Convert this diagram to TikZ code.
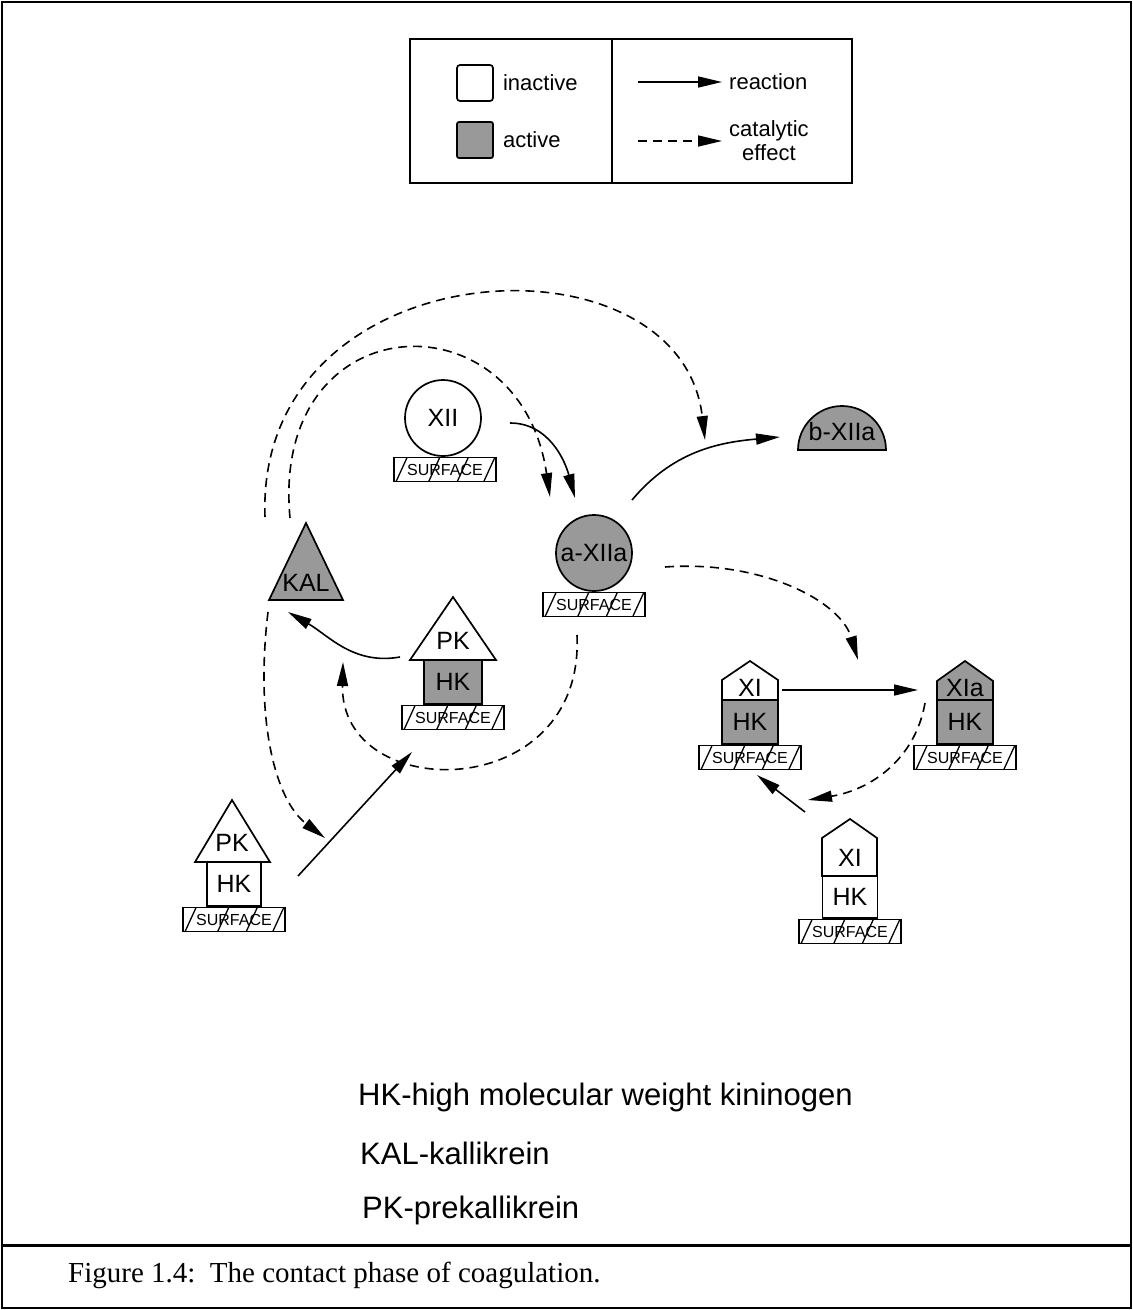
\documentclass[tikz,border=0pt]{standalone}
\usepackage{fontspec}
\setmainfont{Liberation Sans}
\newfontfamily\capfont{Liberation Serif}
\usetikzlibrary{shapes.geometric, arrows.meta, positioning, calc}
\newcommand{\fsz}[1]{\fontsize{#1}{#1}\selectfont}

\begin{document}
\begin{tikzpicture}[
    x=1pt, y=1pt,
    inact/.style={draw, fill=white, line width=1.7pt, inner sep=0pt, font=\fsz{25}},
    act/.style={inact, fill=black!40},
    lbl/.style={inner sep=0pt, font=\fsz{25}},
    surf/.style={draw, fill=white, line width=1.5pt, minimum width=102pt,
                 minimum height=24pt, inner sep=0pt, font=\fsz{16},
                 path picture={\foreach \f in {0.02,0.34,0.62,0.88}
                   \draw[line width=1.3pt] ($(path picture bounding box.south west)!\f!(path picture bounding box.south east)$) -- ++(11pt,24pt);}},
    react/.style={-{Triangle[length=24pt,width=11pt]}, line width=1.6pt},
    cat/.style={react, dash pattern=on 9pt off 6pt},
    leg/.style={font=\fontsize{22}{24}\selectfont, align=center, inner sep=1pt},
    note/.style={font=\fsz{31}, anchor=west, inner sep=0pt},
    node distance=8pt
]
\useasboundingbox (0,0) rectangle (1133,-1310);
\draw[line width=2.2pt] (2,-2) rectangle (1131,-1308);
\draw[line width=3pt] (2,-1245) -- (1131,-1245);

\draw[line width=1.8pt] (410,-39) rectangle (852,-183);
\draw[line width=1.8pt] (612,-39) -- (612,-183);
\node[inact, minimum size=36pt, rounded corners=3pt] (lgin) at (475,-83) {};
\node[leg, right=of lgin] (lgintxt) {inactive};
\node[act, minimum size=36pt, rounded corners=2pt] (lgact) at (475,-140) {};
\node[leg, right=of lgact] (lgacttxt) {active};
\node[leg, anchor=west] (lgreact) at (728,-82) {reaction};
\node[leg, anchor=west] (lgcat) at (728,-141) {catalytic\\effect};
\coordinate (lgra) at (638,-82);
\coordinate (lgca) at (638,-141);
\draw[react, shorten >=6pt] (lgra) -- (lgreact.west);
\draw[cat, shorten >=6pt] (lgca) -- (lgcat.west);

\node[inact, circle, minimum size=76pt] (xii) at (443,-418) {XII};
\node[surf, below=0pt of xii, xshift=2pt] (xiisurf) {SURFACE};

\node[act, circle, minimum size=76pt] (axiia) at (594,-553) {a-XIIa};
\node[surf, below=0pt of axiia] (axiiasurf) {SURFACE};

\draw[act] (798,-450) arc[start angle=180, end angle=0, radius=44] -- cycle;
\node[lbl] (bxiia) at (842,-432) {b-XIIa};

\draw[act] (269,-600) -- (306,-523) -- (343,-600) -- cycle;
\node[lbl] (kal) at (306,-583) {KAL};

\node[act, minimum width=58pt, minimum height=44pt] (hka) at (453,-682) {HK};
\draw[inact] (410,-660) -- (453,-597) -- (496,-660) -- cycle;
\node[lbl] (pka) at (453,-641) {PK};
\node[surf, below=0pt of hka] (hkasurf) {SURFACE};

\node[inact, minimum width=54pt, minimum height=44pt] (hkb) at (234,-884) {HK};
\draw[inact] (195,-862) -- (232,-800) -- (270,-862) -- cycle;
\node[lbl] (pkb) at (232,-843) {PK};
\node[surf, below=0pt of hkb] (hkbsurf) {SURFACE};

\node[act, minimum width=56pt, minimum height=44pt] (hkc) at (750,-722) {HK};
\draw[inact] (722,-700) -- (722,-680) -- (750,-661) -- (778,-680) -- (778,-700) -- cycle;
\node[lbl] (xia) at (750,-688) {XI};
\node[surf, below=0pt of hkc] (hkcsurf) {SURFACE};

\node[act, minimum width=56pt, minimum height=44pt] (hkd) at (965,-722) {HK};
\draw[act] (937,-700) -- (937,-681) -- (965,-661) -- (993,-681) -- (993,-700) -- cycle;
\node[lbl] (xiaa) at (965,-688) {XIa};
\node[surf, below=0pt of hkd] (hkdsurf) {SURFACE};

\node[inact, minimum width=55pt, minimum height=42pt] (hke) at (850,-897) {HK};
\draw[inact] (822,-876) -- (822,-838) -- (850,-819) -- (877,-838) -- (877,-876) -- cycle;
\node[lbl] (xib) at (850,-858) {XI};
\node[surf, below=0pt of hke] (hkesurf) {SURFACE};

\draw[react] ([shift={(67,-5)}]xii.center) to[out=0, in=105] ([shift={(-19,55)}]axiia.center);
\draw[react] ([shift={(38,53)}]axiia.center) to[out=50, in=185] ([shift={(-62,-5)}]bxiia.center);
\draw[react] ([shift={(-53,-16)}]pka.center) to[out=190, in=-30] ([shift={(-18,-29)}]kal.center);
\draw[react] ([shift={(64,8)}]hkb.center) -- ([shift={(-41,-70)}]hka.center);
\draw[react] ([shift={(32,-2)}]xia.center) -- ([shift={(-47,-2)}]xiaa.center);
\draw[react] ([shift={(-45,46)}]xib.center) -- ([shift={(7,-53)}]hkc.center);

\draw[cat] ([shift={(-41,66)}]kal.center) .. controls +(-10,270) and +(-25,215) .. ([shift={(-137,-8)}]bxiia.center);
\draw[cat] ([shift={(-16,65)}]kal.center) .. controls +(-20,215) and +(-30,205) .. ([shift={(-44,56)}]axiia.center);
\draw[cat] ([shift={(-38,-29)}]kal.center) .. controls +(-13,-108) and +(-50,38) .. ([shift={(93,5)}]pkb.center);
\draw[cat] ([shift={(-17,-82)}]axiia.center) .. controls +(8,-170) and +(-3,-143) .. ([shift={(-110,20)}]hka.center);
\draw[cat] ([shift={(71,-14)}]axiia.center) .. controls +(95,7) and +(-18,60) .. ([shift={(-107,28)}]xiaa.center);
\draw[cat] ([shift={(-40,19)}]hkd.center) .. controls +(-10,-57) and +(62,10) .. ([shift={(-42,58)}]xib.center);

\node[note] (hknote) at (358,-1097) {HK-high molecular weight kininogen};
\node[note] (kalnote) at (360,-1153) {KAL-kallikrein};
\node[note] (pknote) at (362,-1210) {PK-prekallikrein};
\node[note, font=\capfont\fsz{29}] (caption) at (68,-1275) {Figure 1.4:\ \ The contact phase of coagulation.};
\end{tikzpicture}
\end{document}
